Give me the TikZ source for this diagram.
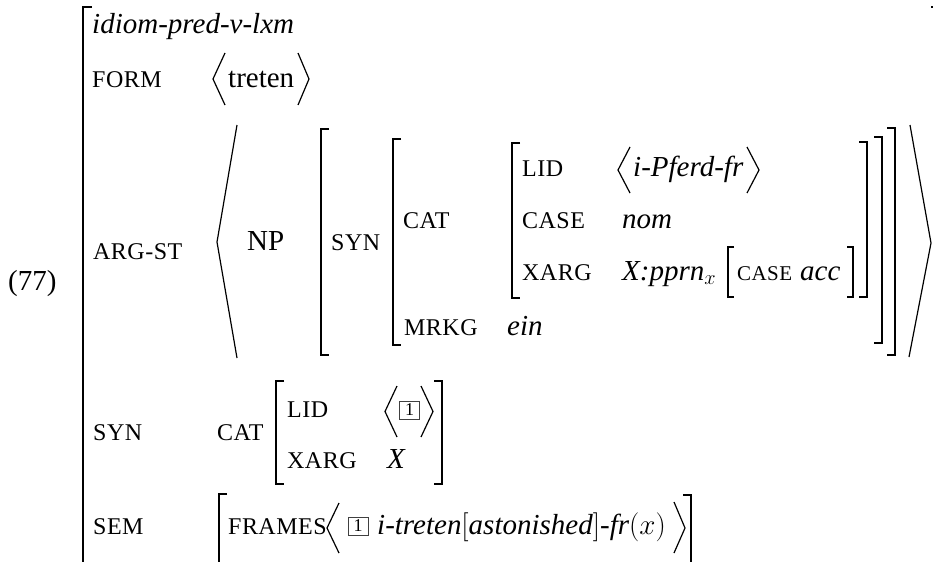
\RequirePackage{fix-cm}
\documentclass[tikz,border=0pt]{standalone}
\usepackage{fontspec}
\setmainfont{Liberation Serif}
\newfontfamily\featfont[LetterSpace=2]{Liberation Serif}
\newcommand\avmsz{\fontsize{29}{34}\selectfont}
\newcommand\ftsz{\featfont\fontsize{24}{28}\selectfont}

\begin{document}
\begin{tikzpicture}[x=1pt,y=-1pt,
	val/.style={anchor=base west,inner sep=0pt,font=\avmsz},
	ival/.style={val,font=\avmsz\itshape},
	ft/.style={anchor=base west,inner sep=0pt,font=\ftsz},
	brk/.style={line width=1.4pt},
	ang/.style={line width=1.2pt},
	tagbx/.style={draw=black!75,line width=0.6pt,minimum width=20pt,minimum height=18pt,inner sep=0pt,font=\fontsize{18}{18}\selectfont}]
\useasboundingbox (0,0) rectangle (933,562);
\node[val] (ex) at (8,290) {(77)};
\draw[brk,line width=2pt] (92,7) -| (83,562);
\draw[brk,line width=2pt] (931,7) -| (940,562);
\node[ival] (type) at (92,33) {idiom-pred-v-lxm};
% FORM
\node[ft] (form) at (92,87) {FORM};
\draw[ang] (225,53) -- (213,79) -- (225,105);
\node[val] (formval) at (228,87) {treten};
\draw[ang] (298,53) -- (309,79) -- (298,105);
% ARG-ST
\node[ft] (argst) at (93,259) {ARG-ST};
\draw[ang] (237,125) -- (217,242) -- (237,358);
\draw[ang] (910,125) -- (931,243) -- (909,357);
\node[val] (np) at (247,250) {NP};
\draw[brk] (329,129) -| (321,355) -- (329,355);
\node[ft] (npsyn) at (331,250) {SYN};
\draw[brk] (401,139) -| (393,345) -- (401,345);
\node[ft] (npcat) at (403,228) {CAT};
\draw[brk] (520,143) -| (512,298) -- (520,298);
\node[ft] (nplid) at (522,176) {LID};
\node[ft] (npcase) at (522,228) {CASE};
\node[ft] (npxarg) at (522,280) {XARG};
\draw[ang] (630,147) -- (618,170) -- (630,193);
\node[ival] (nplidval) at (633,176) {i-Pferd-fr};
\draw[ang] (747,147) -- (759,170) -- (747,193);
\node[ival] (npcaseval) at (622,228) {nom};
\node[val] (npxargval) at (622,280) {\textit{X:pprn}$_x$};
\draw[brk] (734,247) -| (728,297) -- (734,297);
\node[ft,font=\featfont\fontsize{21}{24}\selectfont] (xcase) at (737,280) {CASE};
\node[ival] (xcaseval) at (800,280) {acc};
\draw[brk] (847,247) -| (853,297) -- (847,297);
\draw[brk] (859,142) -| (867,297) -- (859,297);
\draw[brk] (874,137) -| (882,343) -- (874,343);
\draw[brk] (887,128) -| (895,355) -- (887,355);
\node[ft] (npmrkg) at (404,335) {MRKG};
\node[ival] (npmrkgval) at (507,335) {ein};
% SYN
\node[ft] (syn) at (93,440) {SYN};
\node[ft] (cat) at (217,440) {CAT};
\draw[brk] (284,381) -| (276,484) -- (284,484);
\node[ft] (lid) at (287,417) {LID};
\node[ft] (xarg) at (287,468) {XARG};
\draw[ang] (397,386) -- (385,411.5) -- (397,437);
\node[tagbx] (tag1) at (409.5,410) {1};
\draw[ang] (421,386) -- (433,411.5) -- (421,437);
\node[ival] (xargval) at (387,468) {X};
\draw[brk] (434,381) -| (442,484) -- (434,484);
% SEM
\node[ft] (sem) at (93,534) {SEM};
\draw[brk] (227,494) -| (219,562);
\node[ft] (frames) at (228,534) {FRAMES};
\draw[ang] (339,503) -- (327,528) -- (339,553);
\node[tagbx] (tag2) at (358,526) {1};
\node[val] (frameval) at (377,534) {\textit{i-treten}$[$\textit{astonished}$]$\textit{-fr}$(x)$};
\draw[ang] (674,502) -- (685,528) -- (674,553);
\draw[brk] (683,495) -| (691,562);
\end{tikzpicture}
\end{document}
